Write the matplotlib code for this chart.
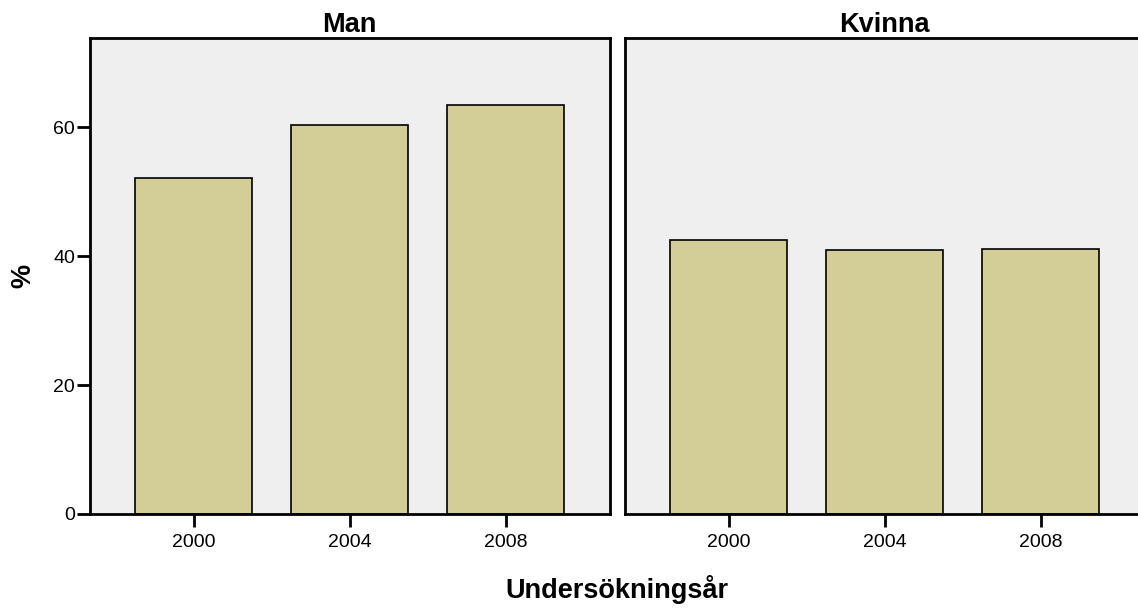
import matplotlib.pyplot as plt
import numpy as np

plt.rcParams['font.family'] = ['Liberation Sans', 'DejaVu Sans']

# data (percent)
years = ["2000", "2004", "2008"]
panels = ["Man", "Kvinna"]
man_values = [52.1, 60.3, 63.4]
kvinna_values = [42.5, 40.9, 41.1]
yticks = [0, 20, 40, 60]

W, H = 1138, 614
fig = plt.figure(figsize=(W / 100, H / 100), dpi=100)

bar_color = "#d3ce98"
bg_color = "#efefef"

def px_axes(x0, x1, y0, y1):
    # pixel box -> figure fraction
    return fig.add_axes([x0 / W, 1 - y1 / H, (x1 - x0) / W, (y1 - y0) / H])

ax1 = px_axes(89.5, 610, 38, 514)
ax2 = px_axes(624.5, 1145, 38, 514)

x = np.arange(len(years))
for ax, title, vals in [(ax1, panels[0], man_values), (ax2, panels[1], kvinna_values)]:
    ax.set_facecolor(bg_color)
    ax.bar(x, vals, width=0.75, color=bar_color, edgecolor="black", linewidth=1.2, zorder=2)
    ax.set_xlim(-0.67, 2.67)
    ax.set_ylim(0, 73.8)
    ax.set_xticks(x)
    ax.set_xticklabels(years, fontsize=14)
    ax.tick_params(axis="x", direction="out", length=9.5, width=2, pad=5)
    for s in ax.spines.values():
        s.set_linewidth(2)
        s.set_color("black")
    ax.set_title(title, fontsize=19.5, fontweight="bold", pad=3)

# right edge of the second panel is cut off in the original
ax2.spines["right"].set_visible(False)

ax1.set_yticks(yticks)
ax1.set_yticklabels([str(v) for v in yticks], fontsize=14)
ax1.tick_params(axis="y", direction="out", length=9.5, width=2, pad=1)
ax2.set_yticks([])

fig.text(617 / W, 1 - 590 / H, "Undersökningsår", ha="center", va="center",
         fontsize=19.5, fontweight="bold")
fig.text(23 / W, 1 - 276 / H, "%", ha="center", va="center", rotation=90,
         fontsize=19.5, fontweight="bold")

fig.savefig("out.png", dpi=100)
